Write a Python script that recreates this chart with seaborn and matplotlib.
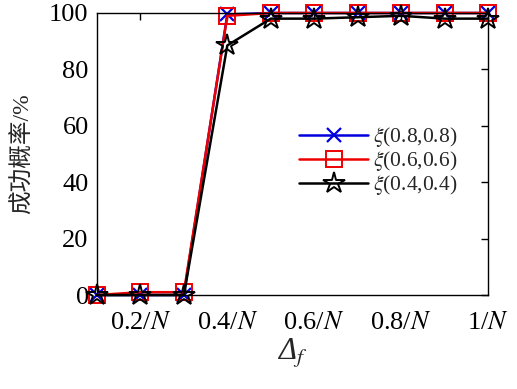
import pandas as pd
import matplotlib
matplotlib.use("Agg")
import matplotlib.pyplot as plt
import seaborn as sns

# Success probability (%) vs frequency offset Delta_f
delta_f = [0.1, 0.2, 0.3, 0.4, 0.5, 0.6, 0.7, 0.8, 0.9, 1.0]
xi_08 = [0, 0, 0, 99.5, 100, 100, 100, 100, 100, 100]
xi_06 = [0, 1, 1, 99, 100, 100, 100, 100, 100, 100]
xi_04 = [0, 0, 0, 88.5, 98, 98, 98.5, 99, 98, 98]
series_labels = [r"$\xi$(0.8,0.8)", r"$\xi$(0.6,0.6)", r"$\xi$(0.4,0.4)"]
tick_vals = [0.2, 0.4, 0.6, 0.8, 1.0]
tick_labels = [r"0.2/$N$", r"0.4/$N$", r"0.6/$N$", r"0.8/$N$", r"1/$N$"]

sns.set_style("white")
plt.rcParams["font.family"] = ["Liberation Serif", "Noto Sans CJK SC"]
plt.rcParams["mathtext.fontset"] = "stix"

fig = plt.figure(figsize=(5.17, 3.89), dpi=100)
ax = fig.add_axes([0.1876, 0.2416, 0.7563, 0.725])

colors = ["#0000dd", "#ee0000", "black"]
styles = [
    dict(marker="x", markersize=10, markeredgewidth=1.6),
    dict(marker="s", markersize=11, markerfacecolor="none", markeredgewidth=1.4),
    dict(marker="*", markersize=16, markerfacecolor="none", markeredgewidth=1.4),
]
for yvals, lab, c, st in zip([xi_08, xi_06, xi_04], series_labels, colors, styles):
    df = pd.DataFrame({"x": delta_f, "y": yvals})
    sns.lineplot(data=df, x="x", y="y", ax=ax, label=lab, linewidth=1.8,
                 color=c, markeredgecolor=c, clip_on=False, **st)

ax.set_xlim(0.1, 1.0)
ax.set_ylim(0, 100)
ax.set_xticks(tick_vals)
ax.set_xticklabels(tick_labels)
ax.set_yticks([0, 20, 40, 60, 80, 100])
ax.tick_params(direction="in", length=5, width=1, top=True, right=True,
               labelsize=19, colors="black", pad=6)
ax.tick_params(axis="x", pad=12)
for sp in ax.spines.values():
    sp.set_color("black")
    sp.set_linewidth(1)

ax.set_xlabel("\u0394$_f$", fontsize=22, fontstyle="italic", labelpad=2)
ax.set_ylabel("成功概率/%", fontsize=17, labelpad=11)

ax.legend(loc="center left", bbox_to_anchor=(0.49, 0.475), frameon=False,
          fontsize=15.5, handlelength=3.2, handletextpad=0.2, labelspacing=0.0,
          borderpad=0)

fig.savefig("out.png", dpi=100)
